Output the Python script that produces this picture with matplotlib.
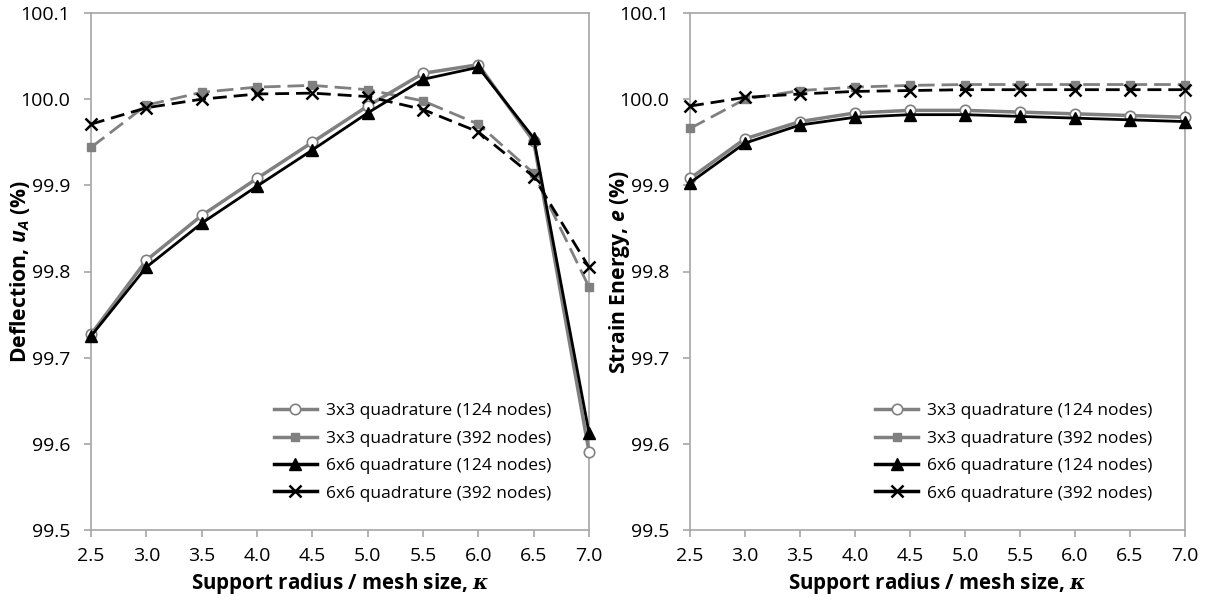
import matplotlib
matplotlib.use("Agg")
import matplotlib.pyplot as plt
from matplotlib.lines import Line2D

plt.rcParams['font.family'] = ['Open Sans', 'DejaVu Sans']
plt.rcParams['mathtext.fontset'] = 'custom'
plt.rcParams['mathtext.it'] = 'Open Sans:italic:bold'
plt.rcParams['mathtext.bf'] = 'DejaVu Serif:italic:bold'
plt.rcParams['mathtext.rm'] = 'Open Sans:bold'

kappa = [2.5, 3.0, 3.5, 4.0, 4.5, 5.0, 5.5, 6.0, 6.5, 7.0]

labels = ["3x3 quadrature (124 nodes)", "3x3 quadrature (392 nodes)",
          "6x6 quadrature (124 nodes)", "6x6 quadrature (392 nodes)"]

# Deflection u_A (%)
defl_3x3_124 = [99.727, 99.813, 99.865, 99.908, 99.950, 99.992, 100.030, 100.040, 99.951, 99.591]
defl_3x3_392 = [99.944, 99.993, 100.008, 100.014, 100.016, 100.011, 99.998, 99.971, 99.914, 99.782]
defl_6x6_124 = [99.725, 99.805, 99.856, 99.899, 99.941, 99.984, 100.023, 100.037, 99.955, 99.613]
defl_6x6_392 = [99.971, 99.990, 100.000, 100.006, 100.007, 100.003, 99.988, 99.962, 99.910, 99.805]

# Strain energy e (%)
ener_3x3_124 = [99.908, 99.954, 99.974, 99.984, 99.987, 99.987, 99.985, 99.983, 99.981, 99.979]
ener_3x3_392 = [99.966, 100.000, 100.010, 100.014, 100.016, 100.017, 100.017, 100.017, 100.017, 100.017]
ener_6x6_124 = [99.903, 99.949, 99.970, 99.979, 99.982, 99.982, 99.980, 99.978, 99.976, 99.974]
ener_6x6_392 = [99.992, 100.002, 100.006, 100.009, 100.010, 100.011, 100.011, 100.011, 100.011, 100.011]

yticks = [99.5, 99.6, 99.7, 99.8, 99.9, 100.0, 100.1]
xticks = [2.5, 3.0, 3.5, 4.0, 4.5, 5.0, 5.5, 6.0, 6.5, 7.0]

GRAY = '#808080'
SPINE = '#a6a6a6'

styles = [
    dict(color=GRAY, ls='-', lw=2.5, marker='o', ms=7.5, mfc='white', mec=GRAY, mew=1.2),
    dict(color=GRAY, ls=(0, (6, 2.5)), lw=2.0, marker='s', ms=6, mfc=GRAY, mec=GRAY),
    dict(color='black', ls='-', lw=2.0, marker='^', ms=8, mfc='black', mec='black'),
    dict(color='black', ls=(0, (5, 2.5)), lw=2.0, marker='x', ms=8, mew=1.8, mec='black'),
]

fig = plt.figure(figsize=(12.07, 6.05), dpi=100)
ax1 = fig.add_axes([91/1207, 1-530/605, 498/1207, 517/605])
ax2 = fig.add_axes([690/1207, 1-530/605, 495/1207, 517/605])

def draw(ax, series, ylabel, anchor):
    for ys, st in zip(series, styles):
        ax.plot(kappa, ys, clip_on=False, zorder=3, **st)
    ax.set_xlim(2.5, 7.0)
    ax.set_ylim(99.5, 100.1)
    ax.set_xticks(xticks)
    ax.set_xticklabels([f"{v:.1f}" for v in xticks])
    ax.set_yticks(yticks)
    ax.set_yticklabels([f"{v:.1f}" for v in yticks])
    for s in ax.spines.values():
        s.set_color(SPINE)
        s.set_linewidth(1.2)
    ax.tick_params(direction='out', length=5, width=1.2, color=SPINE,
                   labelsize=14)
    ax.tick_params(axis='x', pad=7)
    ax.tick_params(axis='y', pad=10)
    ax.set_xlabel("Support radius / mesh size, $\\mathbf{\\kappa}$",
                  fontsize=14.8, fontweight='bold')
    ax.set_ylabel(ylabel, fontsize=15.2, fontweight='bold')
    ax.xaxis.set_label_coords(0.5, -0.079)
    ax.yaxis.set_label_coords(-0.118, 0.5)
    handles = []
    for lab, st in zip(labels, styles):
        st2 = dict(st)
        st2['ls'] = '-'
        st2['lw'] = 2.5
        handles.append(Line2D([], [], label=lab, **st2))
    ax.legend(handles=handles, loc='lower right', bbox_to_anchor=anchor,
              frameon=False, fontsize=12.5, handlelength=2.45, handletextpad=0.55,
              labelspacing=0.65, borderaxespad=0.0, borderpad=0.0)

draw(ax1, [defl_3x3_124, defl_3x3_392, defl_6x6_124, defl_6x6_392],
     "Deflection, $u_A$ (%)", (0.925, 0.055))
draw(ax2, [ener_3x3_124, ener_3x3_392, ener_6x6_124, ener_6x6_392],
     "Strain Energy, $e$ (%)", (0.935, 0.055))

fig.savefig("out.png", dpi=100)
